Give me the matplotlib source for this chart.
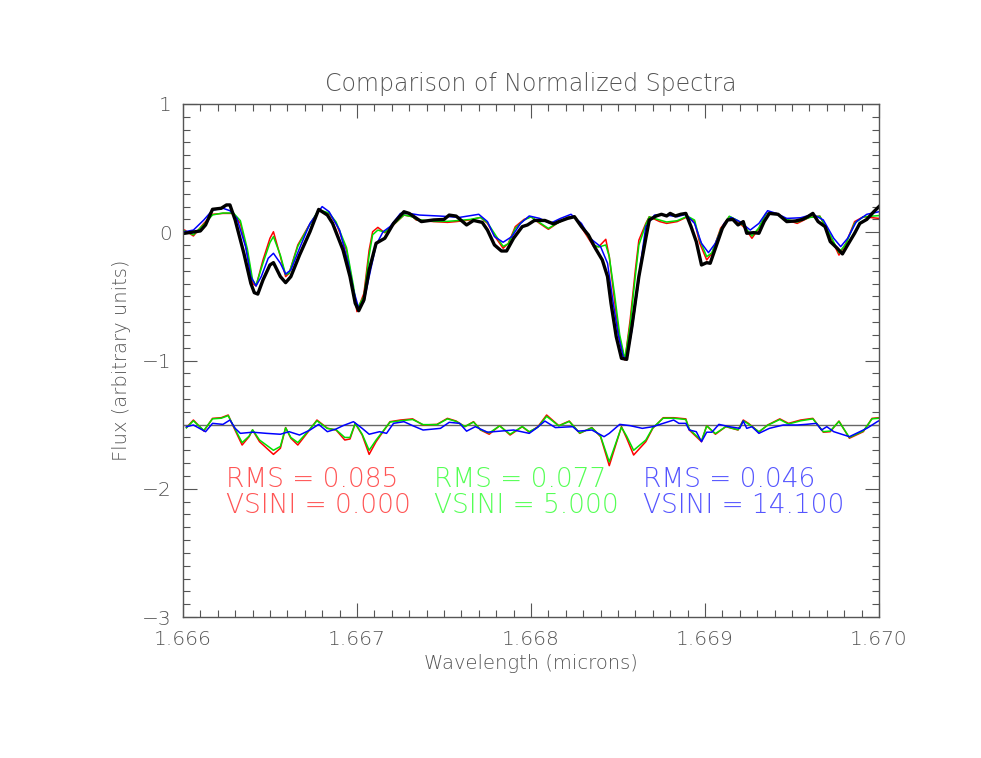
import matplotlib
matplotlib.use('Agg')
import matplotlib.pyplot as plt
from matplotlib.ticker import MultipleLocator, FormatStrFormatter

# observed spectrum (thick black)
wl_obs = [1.66601, 1.66610, 1.66613, 1.66617, 1.66622, 1.66625, 1.66627, 1.66630, 1.66635, 1.66639,
          1.66641, 1.66643, 1.66646, 1.66650, 1.66652, 1.66656, 1.66659, 1.66662, 1.66667, 1.66673,
          1.66678, 1.66683, 1.66686, 1.66692, 1.66696, 1.66699, 1.66701, 1.66704, 1.66707, 1.66711,
          1.66716, 1.66721, 1.66727, 1.66730, 1.66737, 1.66744, 1.66750, 1.66753, 1.66757, 1.66763,
          1.66767, 1.66772, 1.66775, 1.66779, 1.66783, 1.66786, 1.66790, 1.66795, 1.66798, 1.66802,
          1.66808, 1.66813, 1.66816, 1.66821, 1.66825, 1.66829, 1.66833, 1.66837, 1.66841, 1.66844,
          1.66846, 1.66849, 1.66852, 1.66855, 1.66858, 1.66862, 1.66866, 1.66868, 1.66872, 1.66875,
          1.66878, 1.66880, 1.66883, 1.66886, 1.66889, 1.66892, 1.66895, 1.66898, 1.66901, 1.66903,
          1.66906, 1.66910, 1.66913, 1.66916, 1.66919, 1.66922, 1.66924, 1.66928, 1.66931, 1.66934,
          1.66937, 1.66942, 1.66947, 1.66952, 1.66956, 1.66959, 1.66962, 1.66965, 1.66969, 1.66972,
          1.66976, 1.66979, 1.66982, 1.66986, 1.66989, 1.66993, 1.66997, 1.67000]
flux_obs = [-0.008, 0.010, 0.057, 0.179, 0.187, 0.213, 0.213, 0.096, -0.164, -0.398,
            -0.471, -0.482, -0.372, -0.255, -0.237, -0.346, -0.393, -0.346, -0.178, 0.004,
            0.178, 0.134, 0.069, -0.139, -0.346, -0.554, -0.612, -0.528, -0.294, -0.086,
            -0.047, 0.069, 0.160, 0.147, 0.083, 0.096, 0.100, 0.134, 0.126, 0.057,
            0.092, 0.077, 0.017, -0.099, -0.146, -0.146, -0.047, 0.044, 0.057, 0.092,
            0.092, 0.065, 0.083, 0.108, 0.121, 0.044, -0.021, -0.125, -0.216, -0.346,
            -0.554, -0.814, -0.983, -0.991, -0.736, -0.346, -0.047, 0.096, 0.127, 0.140,
            0.127, 0.147, 0.127, 0.140, 0.147, 0.044, -0.073, -0.255, -0.237, -0.242,
            -0.125, 0.031, 0.096, 0.100, 0.057, 0.083, -0.008, -0.003, -0.008, 0.083,
            0.147, 0.140, 0.083, 0.088, 0.100, 0.121, 0.147, 0.083, 0.044, -0.073,
            -0.125, -0.169, -0.099, -0.008, 0.069, 0.100, 0.160, 0.200]

# models vsini = 0 (red) and vsini = 5 (green)
wl_mod = [1.66601, 1.66606, 1.66612, 1.66617, 1.66623, 1.66629, 1.66633, 1.66637, 1.66640, 1.66642,
          1.66646, 1.66650, 1.66652, 1.66656, 1.66659, 1.66661, 1.66666, 1.66672, 1.66678, 1.66684,
          1.66688, 1.66694, 1.66698, 1.66700, 1.66704, 1.66707, 1.66709, 1.66712, 1.66716, 1.66721,
          1.66727, 1.66732, 1.66734, 1.66744, 1.66752, 1.66757, 1.66765, 1.66771, 1.66775, 1.66780,
          1.66784, 1.66787, 1.66791, 1.66796, 1.66800, 1.66805, 1.66810, 1.66815, 1.66821, 1.66825,
          1.66830, 1.66836, 1.66839, 1.66843, 1.66845, 1.66848, 1.66851, 1.66854, 1.66857, 1.66860,
          1.66862, 1.66866, 1.66868, 1.66874, 1.66878, 1.66884, 1.66890, 1.66894, 1.66897, 1.66901,
          1.66904, 1.66909, 1.66914, 1.66919, 1.66923, 1.66927, 1.66931, 1.66935, 1.66941, 1.66947,
          1.66953, 1.66960, 1.66966, 1.66972, 1.66977, 1.66981, 1.66986, 1.66991, 1.67000]
flux_v0 = [0.017, -0.029, 0.069, 0.140, 0.147, 0.147, 0.069, -0.164, -0.398, -0.419,
           -0.216, -0.047, 0.004, -0.190, -0.346, -0.320, -0.099, 0.044, 0.168, 0.147,
           0.069, -0.139, -0.450, -0.619, -0.476, -0.139, 0.004, 0.038, -0.004, 0.057,
           0.134, 0.121, 0.096, 0.083, 0.077, 0.083, 0.096, 0.116, 0.069, -0.047,
           -0.125, -0.086, 0.044, 0.100, 0.121, 0.069, 0.023, 0.069, 0.116, 0.126,
           0.017, -0.112, -0.112, -0.055, -0.190, -0.528, -0.840, -0.996, -0.684, -0.294,
           -0.062, 0.069, 0.121, 0.083, 0.069, 0.083, 0.121, 0.083, -0.086, -0.216,
           -0.164, 0.031, 0.121, 0.083, 0.031, -0.047, 0.031, 0.147, 0.147, 0.096,
           0.069, 0.116, 0.126, -0.034, -0.178, -0.086, 0.083, 0.121, 0.108]
flux_v5 = [0.010, -0.020, 0.060, 0.135, 0.150, 0.150, 0.090, -0.130, -0.370, -0.415,
           -0.240, -0.080, -0.034, -0.180, -0.330, -0.320, -0.110, 0.040, 0.175, 0.150,
           0.080, -0.120, -0.420, -0.600, -0.500, -0.180, -0.020, 0.017, 0.000, 0.060,
           0.135, 0.120, 0.100, 0.085, 0.085, 0.090, 0.100, 0.115, 0.075, -0.030,
           -0.110, -0.090, 0.030, 0.095, 0.120, 0.075, 0.030, 0.070, 0.115, 0.125,
           0.030, -0.100, -0.115, -0.099, -0.190, -0.480, -0.800, -0.990, -0.720, -0.340,
           -0.100, 0.060, 0.120, 0.095, 0.080, 0.090, 0.125, 0.095, -0.060, -0.190,
           -0.160, 0.020, 0.125, 0.090, 0.040, -0.030, 0.035, 0.145, 0.145, 0.100,
           0.080, 0.115, 0.125, -0.020, -0.160, -0.090, 0.070, 0.120, 0.130]

# model vsini = 14.1 (blue)
wl_v14 = [1.66601, 1.66606, 1.66612, 1.66617, 1.66623, 1.66627, 1.66631, 1.66636, 1.66639, 1.66642,
          1.66645, 1.66649, 1.66652, 1.66656, 1.66659, 1.66662, 1.66667, 1.66673, 1.66680, 1.66684,
          1.66690, 1.66695, 1.66698, 1.66701, 1.66704, 1.66707, 1.66711, 1.66715, 1.66719, 1.66725,
          1.66730, 1.66736, 1.66748, 1.66759, 1.66770, 1.66775, 1.66779, 1.66784, 1.66789, 1.66794,
          1.66799, 1.66805, 1.66811, 1.66817, 1.66823, 1.66829, 1.66834, 1.66840, 1.66844, 1.66847,
          1.66850, 1.66853, 1.66855, 1.66858, 1.66862, 1.66863, 1.66866, 1.66871, 1.66878, 1.66884,
          1.66889, 1.66894, 1.66898, 1.66902, 1.66906, 1.66911, 1.66915, 1.66920, 1.66926, 1.66931,
          1.66936, 1.66941, 1.66947, 1.66955, 1.66962, 1.66968, 1.66974, 1.66978, 1.66982, 1.66987,
          1.66993, 1.67000]
flux_v14 = [0.004, 0.017, 0.096, 0.173, 0.187, 0.168, 0.108, -0.112, -0.346, -0.419,
            -0.346, -0.203, -0.164, -0.242, -0.326, -0.294, -0.125, 0.069, 0.200, 0.160,
            0.017, -0.242, -0.450, -0.593, -0.541, -0.346, -0.099, 0.004, 0.044, 0.147,
            0.147, 0.134, 0.126, 0.116, 0.140, 0.083, -0.034, -0.078, -0.034, 0.069,
            0.127, 0.108, 0.069, 0.108, 0.140, 0.069, -0.047, -0.112, -0.242, -0.528,
            -0.788, -0.970, -0.990, -0.762, -0.372, -0.242, 0.044, 0.134, 0.134, 0.121,
            0.140, 0.069, -0.086, -0.159, -0.086, 0.069, 0.116, 0.083, 0.017, 0.069,
            0.168, 0.147, 0.108, 0.113, 0.140, 0.096, -0.047, -0.112, -0.047, 0.083,
            0.140, 0.160]

# residuals, offset to -1.5
wl_res = [1.66602, 1.66606, 1.66612, 1.66617, 1.66622, 1.66626, 1.66629, 1.66634, 1.66638, 1.66640,
          1.66644, 1.66652, 1.66656, 1.66659, 1.66662, 1.66666, 1.66672, 1.66677, 1.66683, 1.66688,
          1.66693, 1.66696, 1.66699, 1.66703, 1.66707, 1.66711, 1.66715, 1.66719, 1.66725, 1.66732,
          1.66738, 1.66746, 1.66752, 1.66757, 1.66762, 1.66767, 1.66771, 1.66776, 1.66782, 1.66788,
          1.66795, 1.66799, 1.66804, 1.66809, 1.66816, 1.66822, 1.66828, 1.66835, 1.66840, 1.66845,
          1.66852, 1.66855, 1.66859, 1.66866, 1.66870, 1.66876, 1.66882, 1.66889, 1.66891, 1.66898,
          1.66901, 1.66906, 1.66912, 1.66919, 1.66922, 1.66925, 1.66931, 1.66936, 1.66943, 1.66948,
          1.66955, 1.66962, 1.66968, 1.66972, 1.66977, 1.66983, 1.66991, 1.66996, 1.67000]
res_v0 = [-1.523, -1.464, -1.550, -1.451, -1.446, -1.425, -1.516, -1.659, -1.594, -1.542,
          -1.633, -1.732, -1.684, -1.523, -1.606, -1.659, -1.555, -1.464, -1.528, -1.542,
          -1.620, -1.612, -1.490, -1.581, -1.732, -1.633, -1.555, -1.477, -1.464, -1.455,
          -1.503, -1.498, -1.451, -1.472, -1.516, -1.477, -1.542, -1.575, -1.508, -1.581,
          -1.516, -1.559, -1.516, -1.425, -1.508, -1.472, -1.568, -1.523, -1.594, -1.820,
          -1.516, -1.606, -1.737, -1.633, -1.529, -1.446, -1.446, -1.455, -1.542, -1.633,
          -1.508, -1.575, -1.516, -1.542, -1.464, -1.490, -1.559, -1.503, -1.455, -1.490,
          -1.464, -1.451, -1.559, -1.555, -1.472, -1.606, -1.555, -1.451, -1.446]
res_v5 = [-1.525, -1.470, -1.545, -1.455, -1.450, -1.430, -1.510, -1.640, -1.590, -1.540,
          -1.620, -1.700, -1.670, -1.525, -1.600, -1.640, -1.550, -1.470, -1.530, -1.540,
          -1.600, -1.600, -1.490, -1.575, -1.700, -1.620, -1.550, -1.480, -1.470, -1.460,
          -1.500, -1.500, -1.455, -1.475, -1.515, -1.480, -1.540, -1.565, -1.510, -1.575,
          -1.515, -1.555, -1.520, -1.435, -1.510, -1.475, -1.565, -1.525, -1.590, -1.790,
          -1.520, -1.590, -1.700, -1.620, -1.525, -1.450, -1.450, -1.460, -1.535, -1.625,
          -1.510, -1.570, -1.515, -1.540, -1.470, -1.495, -1.555, -1.505, -1.460, -1.495,
          -1.470, -1.455, -1.555, -1.550, -1.475, -1.600, -1.550, -1.455, -1.450]
wl_res14 = [1.66602, 1.66606, 1.66613, 1.66617, 1.66623, 1.66627, 1.66630, 1.66633, 1.66640, 1.66648,
            1.66656, 1.66661, 1.66667, 1.66673, 1.66678, 1.66683, 1.66688, 1.66692, 1.66698, 1.66703,
            1.66707, 1.66713, 1.66717, 1.66721, 1.66727, 1.66732, 1.66738, 1.66748, 1.66753, 1.66759,
            1.66763, 1.66768, 1.66775, 1.66782, 1.66790, 1.66799, 1.66803, 1.66808, 1.66814, 1.66824,
            1.66827, 1.66835, 1.66842, 1.66845, 1.66851, 1.66857, 1.66864, 1.66870, 1.66876, 1.66882,
            1.66885, 1.66889, 1.66891, 1.66895, 1.66898, 1.66901, 1.66904, 1.66908, 1.66914, 1.66920,
            1.66922, 1.66924, 1.66927, 1.66931, 1.66937, 1.66945, 1.66953, 1.66958, 1.66964, 1.66967,
            1.66970, 1.66974, 1.66983, 1.66989, 1.66993, 1.66999, 1.67000]
res_v14 = [-1.516, -1.503, -1.555, -1.490, -1.498, -1.464, -1.529, -1.568, -1.559, -1.568,
           -1.575, -1.555, -1.581, -1.542, -1.498, -1.555, -1.534, -1.508, -1.477, -1.529,
           -1.575, -1.555, -1.568, -1.490, -1.477, -1.508, -1.542, -1.529, -1.482, -1.490,
           -1.551, -1.516, -1.559, -1.551, -1.542, -1.568, -1.529, -1.472, -1.523, -1.516,
           -1.551, -1.542, -1.594, -1.568, -1.498, -1.508, -1.529, -1.516, -1.490, -1.464,
           -1.490, -1.490, -1.542, -1.555, -1.633, -1.559, -1.559, -1.498, -1.516, -1.529,
           -1.472, -1.529, -1.516, -1.568, -1.529, -1.503, -1.503, -1.498, -1.490, -1.542,
           -1.516, -1.555, -1.594, -1.555, -1.529, -1.477, -1.470]

rms = [0.085, 0.077, 0.046]
vsini = [0.000, 5.000, 14.100]
colors = ['#ff0000', '#00e000', '#0000ff']
text_colors = ['#ff5555', '#55ff55', '#5555ff']

plt.rcParams['font.family'] = ['DejaVu Sans']
fig = plt.figure(figsize=(9.81, 7.58), dpi=100)
ax = fig.add_axes([0.1865, 0.186, 0.7095, 0.6768])

grey = '#555555'
txt = '#555555'
thin = 'ultralight'
ax.axhline(-1.5, color='#666666', lw=1.0)
ax.plot(wl_res, res_v0, color=colors[0], lw=1.1)
ax.plot(wl_res, res_v5, color=colors[1], lw=1.1)
ax.plot(wl_res14, res_v14, color=colors[2], lw=1.1)
ax.plot(wl_mod, flux_v0, color=colors[0], lw=1.1)
ax.plot(wl_mod, flux_v5, color=colors[1], lw=1.1)
ax.plot(wl_v14, flux_v14, color=colors[2], lw=1.1)
ax.plot(wl_obs, flux_obs, color='black', lw=2.4)

ax.set_xlim(1.666, 1.670)
ax.set_ylim(-3, 1)
ax.xaxis.set_major_locator(MultipleLocator(0.001))
ax.xaxis.set_minor_locator(MultipleLocator(0.0001))
ax.xaxis.set_major_formatter(FormatStrFormatter('%.3f'))
ax.yaxis.set_major_locator(MultipleLocator(1))
ax.yaxis.set_minor_locator(MultipleLocator(0.1))
ax.tick_params(which='both', direction='in', top=True, right=True, color=grey, width=0.8)
ax.tick_params(which='major', length=10)
ax.tick_params(which='minor', length=5)
ax.tick_params(axis='x', which='major', pad=9, labelsize=14.5, labelcolor=txt)
ax.tick_params(axis='y', which='major', pad=8, labelsize=14.5, labelcolor=txt)
for lab in ax.get_xticklabels() + ax.get_yticklabels():
    lab.set_fontweight(thin)
for s in ax.spines.values():
    s.set_color(grey)
    s.set_linewidth(1.0)

ax.set_title('Comparison of Normalized Spectra', fontsize=17, color=txt, pad=9.5, fontweight=thin)
ax.set_xlabel('Wavelength (microns)', fontsize=14, color=txt, labelpad=4, fontweight=thin)
ax.set_ylabel('Flux (arbitrary units)', fontsize=14, color=txt, labelpad=8, fontweight=thin)

xs = [0.0618, 0.3606, 0.661]
for x0, r, v, c in zip(xs, rms, vsini, text_colors):
    ax.text(x0, 0.269, 'RMS = %.3f' % r, color=c, fontsize=19, transform=ax.transAxes,
            va='center', fontweight=thin)
    ax.text(x0, 0.218, 'VSINI = %.3f' % v, color=c, fontsize=19, transform=ax.transAxes,
            va='center', fontweight=thin)

fig.savefig('out.png', dpi=100, facecolor='white')
